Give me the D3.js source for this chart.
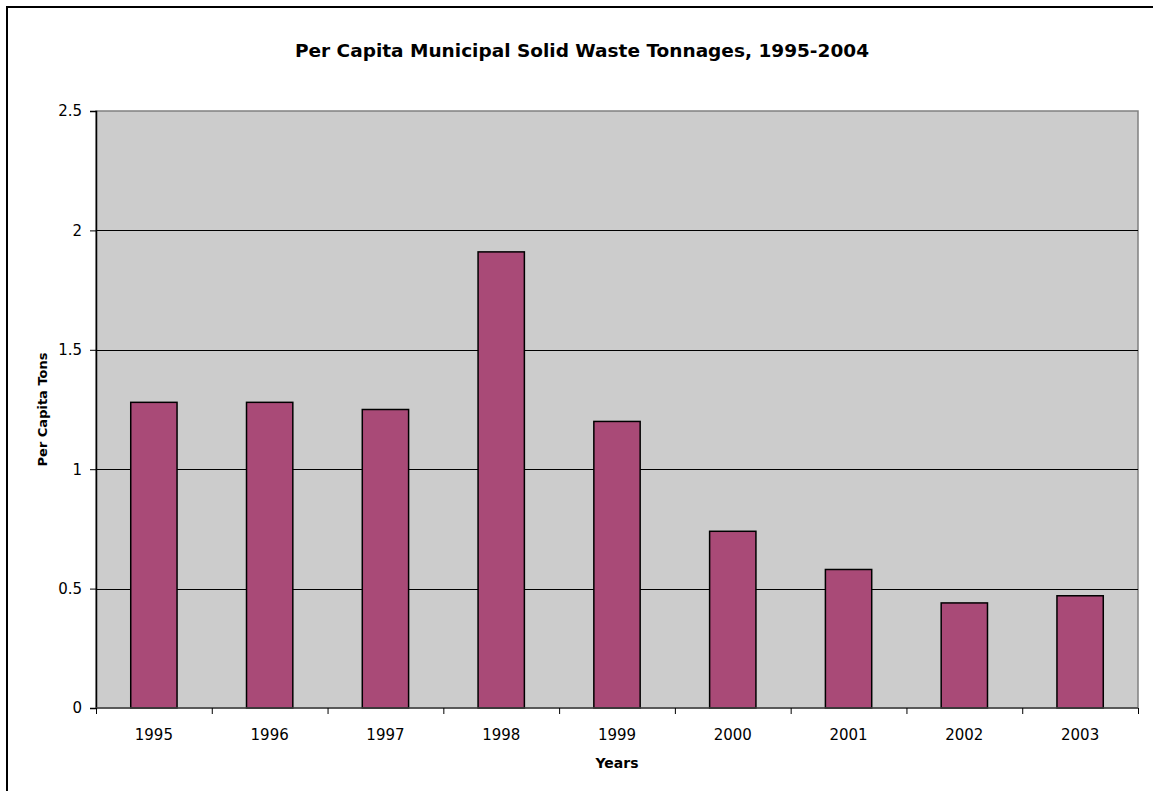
<!DOCTYPE html>
<html>
<head>
<meta charset="utf-8">
<script src="https://cdn.jsdelivr.net/npm/d3@7"></script>
<style>
  body { margin: 0; background: #fff; }
  text { font-family: "DejaVu Sans", Verdana, sans-serif; fill: #000; }
</style>
</head>
<body>
<svg width="1153" height="791"></svg>
<script>
var years = ["1995", "1996", "1997", "1998", "1999", "2000", "2001", "2002", "2003"];
var tons = [1.28, 1.28, 1.25, 1.91, 1.20, 0.74, 0.58, 0.44, 0.47];
var yTicks = [0, 0.5, 1, 1.5, 2, 2.5];

var svg = d3.select("svg"),
    margin = {top: 111, right: 15, bottom: 83, left: 96},
    width = 1153 - margin.left - margin.right,
    height = 791 - margin.top - margin.bottom;

// outer frame (runs off the right and bottom edge)
svg.append("rect")
    .attr("x", 7).attr("y", 7)
    .attr("width", 1160).attr("height", 800)
    .attr("fill", "none")
    .attr("stroke", "#000")
    .attr("stroke-width", 2);

svg.append("text")
    .attr("x", 582).attr("y", 57)
    .attr("text-anchor", "middle")
    .style("font-size", "18.5px")
    .style("font-weight", "bold")
    .text("Per Capita Municipal Solid Waste Tonnages, 1995-2004");

var g = svg.append("g")
    .attr("transform", "translate(" + margin.left + "," + margin.top + ")");

var x = d3.scaleBand()
    .domain(years)
    .range([0, width])
    .paddingInner(0.6)
    .paddingOuter(0.3);

var y = d3.scaleLinear()
    .domain([0, 2.5])
    .range([height, 0]);

// plot background
g.append("rect")
    .attr("width", width).attr("height", height)
    .attr("fill", "#cccccc")
    .attr("stroke", "#808080")
    .attr("stroke-width", 1.5);

// gridlines
g.selectAll(".grid")
    .data(yTicks.slice(1, -1))
    .enter().append("line")
    .attr("x1", 0).attr("x2", width)
    .attr("y1", function(d) { return Math.round(y(d)) + 0.5; })
    .attr("y2", function(d) { return Math.round(y(d)) + 0.5; })
    .attr("stroke", "#000")
    .attr("stroke-width", 1);

g.selectAll(".bar")
    .data(tons)
    .enter().append("rect")
    .attr("class", "bar")
    .attr("x", function(d, i) { return x(years[i]); })
    .attr("y", function(d) { return y(d); })
    .attr("width", x.bandwidth())
    .attr("height", function(d) { return height - y(d); })
    .attr("fill", "#a94a77")
    .attr("stroke", "#000")
    .attr("stroke-width", 1.5);

// y axis
var yAxis = g.append("g")
    .call(d3.axisLeft(y).tickValues(yTicks).tickSize(6).tickPadding(8)
        .tickFormat(function(d) { return d; }));
yAxis.attr("font-size", null).attr("font-family", null);
yAxis.select(".domain").attr("stroke", "#000").attr("stroke-width", 1.5);
yAxis.selectAll("text").style("font-size", "15px");

// x axis: ticks at category boundaries
var xb = g.append("g").attr("transform", "translate(0," + height + ")");
xb.append("line")
    .attr("x1", 0).attr("x2", width)
    .attr("stroke", "#444").attr("stroke-width", 1.5);
xb.selectAll(".xt")
    .data(d3.range(years.length + 1))
    .enter().append("line")
    .attr("x1", function(i) { return i * x.step() + 0.5; })
    .attr("x2", function(i) { return i * x.step() + 0.5; })
    .attr("y1", 0).attr("y2", 6)
    .attr("stroke", "#000");
xb.selectAll(".xl")
    .data(years)
    .enter().append("text")
    .attr("x", function(d) { return x(d) + x.bandwidth() / 2; })
    .attr("y", 32)
    .attr("text-anchor", "middle")
    .style("font-size", "15px")
    .text(function(d) { return d; });

svg.append("text")
    .attr("x", margin.left + width / 2).attr("y", 768)
    .attr("text-anchor", "middle")
    .style("font-size", "14px")
    .style("font-weight", "bold")
    .text("Years");

svg.append("text")
    .attr("transform", "translate(47," + (margin.top + height / 2) + ") rotate(-90)")
    .attr("text-anchor", "middle")
    .style("font-size", "13px")
    .style("font-weight", "bold")
    .text("Per Capita Tons");
</script>
</body>
</html>
